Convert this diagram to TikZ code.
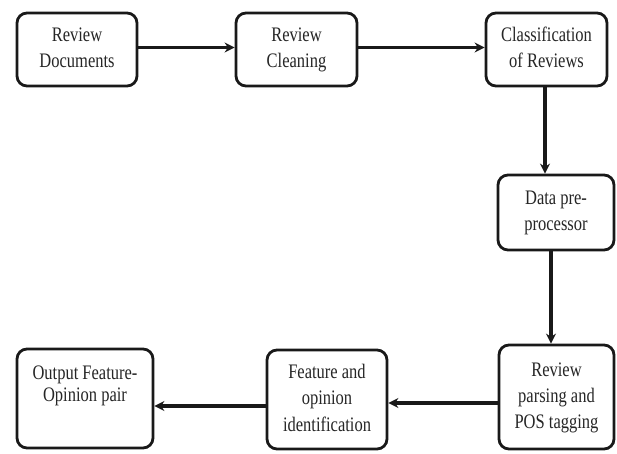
\documentclass[tikz,border=0pt]{standalone}
\usepackage{fontspec}
\setmainfont{Liberation Serif}
\usepackage{graphicx}
\usetikzlibrary{arrows.meta,calc}
\newcommand\boxtxt[1]{\scalebox{1}[1.25]{\begin{tabular}{@{}c@{}}#1\end{tabular}}}
\tikzset{
  stagebox/.style={draw=black!90, line width=2.8pt, rounded corners=10pt, fill=white, inner sep=0pt,
    text=black!85, font=\fontsize{16.5}{21}\selectfont, align=center},
  flowarrow/.style={draw=black!90, line width=3.2pt, -{Stealth[length=10pt,width=10pt]}}
}
\begin{document}
\begin{tikzpicture}[x=1pt,y=-1pt]
\useasboundingbox (0,0) rectangle (617,454);
\node[stagebox, minimum width=120pt, minimum height=73pt] (b1) at (77,49.5) {\boxtxt{Review\\Documents}};
\node[stagebox, minimum width=121pt, minimum height=73pt] (b2) at (296.5,49.5) {\boxtxt{Review\\Cleaning}};
\node[stagebox, minimum width=121pt, minimum height=73pt] (b3) at (546.5,49.5) {\boxtxt{Classification\\of Reviews}};
\node[stagebox, minimum width=116pt, minimum height=75pt] (b4) at (556,212.5) {\boxtxt{Data pre-\\processor}};
\node[stagebox, minimum width=115pt, minimum height=104pt] (b5) at (556.5,397) {\boxtxt{Review\\parsing and\\POS tagging}};
\node[stagebox, minimum width=120pt, minimum height=99pt] (b6) at (327,399.5) {\boxtxt{Feature and\\opinion\\identification}};
\node[stagebox, minimum width=136pt, minimum height=99pt] (b7) at (85,398.5) {};
\node[text=black!85, font=\fontsize{16.5}{17.5}\selectfont, align=center] (t7) at (85,386) {\boxtxt{Output Feature-\\Opinion pair}};
\draw[flowarrow] ([yshift=2pt]b1.east) -- ([yshift=2pt]b2.west);
\draw[flowarrow] ([yshift=2pt]b2.east) -- ([yshift=2pt]b3.west);
\draw[flowarrow] ([xshift=-1.5pt]b3.south) -- ([xshift=-1.5pt]b3.south |- b4.north);
\draw[flowarrow] ([xshift=-5pt]b4.south) -- ([xshift=-5pt]b4.south |- b5.north);
\draw[flowarrow] ([yshift=-6pt]b5.west) -- ([yshift=-6pt]b5.west -| b6.east);
\draw[flowarrow] ([yshift=-6.5pt]b6.west) -- ([yshift=-6.5pt]b6.west -| b7.east);
\end{tikzpicture}
\end{document}
